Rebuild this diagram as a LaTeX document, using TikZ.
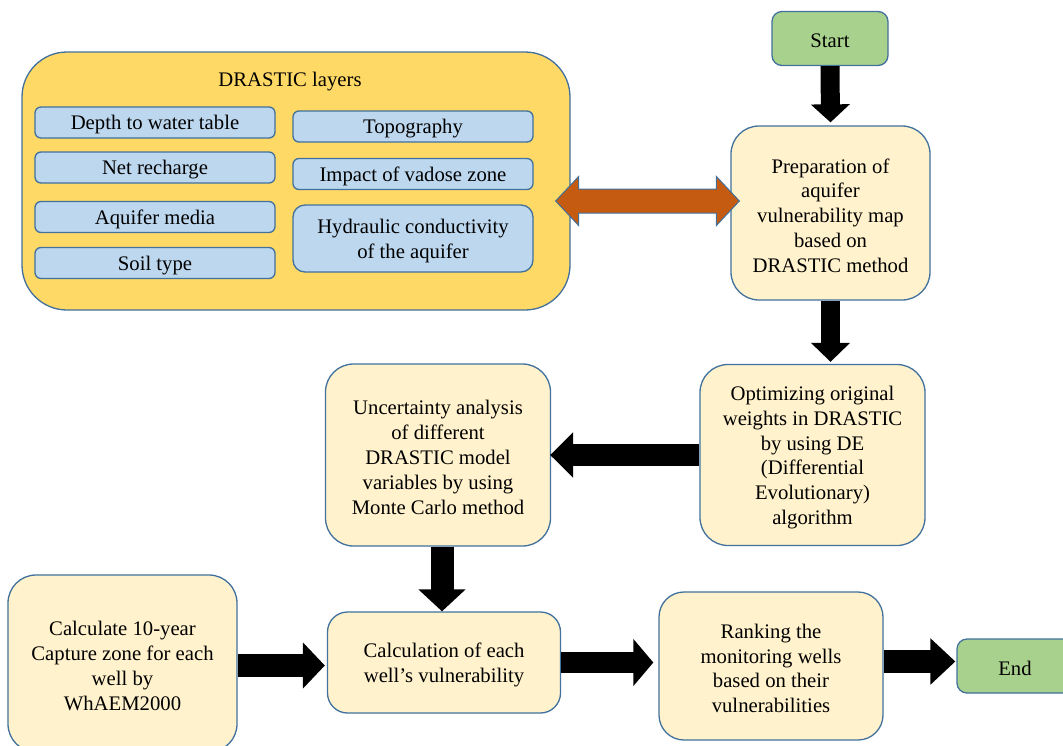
\documentclass[tikz,border=0pt]{standalone}
\usepackage{fontspec}
\setmainfont{Liberation Serif}
\usetikzlibrary{arrows.meta,calc}
\definecolor{bordc}{RGB}{65,113,156}
\definecolor{startg}{RGB}{169,209,142}
\definecolor{boxf}{RGB}{255,242,204}
\definecolor{yelf}{RGB}{255,217,102}
\definecolor{bluef}{RGB}{189,215,238}
\definecolor{orgf}{RGB}{197,90,17}
\tikzset{
  txt/.style={inner sep=0pt, align=center, font=\fontsize{20.7}{24.8}\selectfont, yshift=-2.5pt},
  base/.style={draw=bordc, line width=1.3pt, inner sep=0pt},
  procbox/.style={base, fill=boxf, rounded corners=28pt},
  termbox/.style={base, fill=startg, rounded corners=10pt, minimum width=116pt, minimum height=54pt},
  layerbox/.style={base, fill=bluef, rounded corners=6pt, minimum width=240pt, minimum height=31pt},
  blk/.style={line width=#1, draw=black},
}
\begin{document}
\begin{tikzpicture}[x=1pt,y=-1pt]
\clip (0,0) rectangle (1063,745);
\fill[white] (0,0) rectangle (1063,745);

% DRASTIC group
\node[base, fill=yelf, rounded corners=45pt, minimum width=548pt, minimum height=258pt] (drastic) at (296,181) {};
\node[txt] (dtitle) at (290,79) {DRASTIC layers};
\node[layerbox, label={[txt]center:Depth to water table}] (depth) at (155,122.5) {};
\node[layerbox, label={[txt]center:Net recharge}] (net) at (155,167.5) {};
\node[layerbox, label={[txt]center:Aquifer media}] (aqm) at (155,217) {};
\node[layerbox, label={[txt]center:Soil type}] (soil) at (155,263) {};
\node[layerbox, label={[txt]center:Topography}] (topo) at (413,126.5) {};
\node[layerbox, label={[txt]center:Impact of vadose zone}] (imp) at (413,174) {};
\node[layerbox, minimum height=67pt, rounded corners=12pt,
  label={[txt]center:{Hydraulic conductivity\\of the aquifer}}] (hyd) at (413,238.5) {};

% flow boxes
\node[termbox, label={[txt]center:Start}] (start) at (830,38.5) {};
\node[procbox, minimum width=199pt, minimum height=174pt,
  label={[txt]center:{Preparation of\\aquifer\\vulnerability map\\based on\\DRASTIC method}}] (prep) at (830.5,213) {};
\node[procbox, minimum width=225pt, minimum height=181pt,
  label={[txt]center:{Optimizing original\\weights in DRASTIC\\by using DE\\(Differential\\Evolutionary)\\algorithm}}] (opt) at (812.5,455) {};
\node[procbox, minimum width=225pt, minimum height=182pt,
  label={[txt]center:{Uncertainty analysis\\of different\\DRASTIC model\\variables by using\\Monte Carlo method}}] (unc) at (438,455) {};
\node[procbox, rounded corners=20pt, minimum width=233pt, minimum height=101pt,
  label={[txt]center:{Calculation of each\\well’s vulnerability}}] (calc) at (444,662.5) {};
\node[procbox, minimum width=229pt, minimum height=177pt,
  label={[txt]center:{Calculate 10-year\\Capture zone for each\\well by\\WhAEM2000}}] (capt) at (122.5,663.5) {};
\node[procbox, rounded corners=25pt, minimum width=224pt, minimum height=148pt,
  label={[txt]center:{Ranking the\\monitoring wells\\based on their\\vulnerabilities}}] (rank) at (771,666) {};
\node[termbox, label={[txt]center:End}] (end) at (1015,666) {};

% orange double arrow between DRASTIC layers and preparation
\coordinate (dl) at ($(drastic.east)+(-15,20)$);
\coordinate (dr) at ($(prep.west)+(9,-12)$);
\draw[draw=bordc, line width=1pt, fill=orgf]
  (dl) -- ++(23,-24.5) -- ++(0,12.5) -- ($(dr)+(-23,-12)$) -- ++(0,-12.5) -- (dr)
  -- ++(-23,24.5) -- ++(0,-12.5) -- ($(dl)+(23,12)$) -- ++(0,12.5) -- cycle;

% black block arrows
\draw[blk=19pt, -{Triangle[width=38pt,length=18pt]}]
  (start.south) -- ([yshift=3pt]prep.north);
\draw[blk=19pt, -{Triangle[width=38pt,length=19pt]}]
  (prep.south) -- ([yshift=2pt]prep.south |- opt.north);
\draw[blk=22pt, -{Triangle[width=44pt,length=23pt]}]
  (opt.west) -- ([xshift=-1pt]unc.east);
\draw[blk=23pt, -{Triangle[width=46pt,length=22pt]}]
  ([xshift=4pt]unc.south) -- ([xshift=4pt]unc.south |- calc.north);
\draw[blk=23pt, -{Triangle[width=45pt,length=22pt]}]
  ([yshift=-2pt]capt.east) -- ([xshift=-2pt,yshift=-2pt]capt.east -| calc.west);
\draw[blk=21pt, -{Triangle[width=46pt,length=20pt]}]
  (calc.east) -- ([xshift=-5pt]calc.east -| rank.west);
\draw[blk=23pt, -{Triangle[width=45pt,length=25pt]}]
  ([yshift=4.5pt]rank.east) -- ([xshift=-1pt,yshift=4.5pt]rank.east -| end.west);
\end{tikzpicture}
\end{document}
